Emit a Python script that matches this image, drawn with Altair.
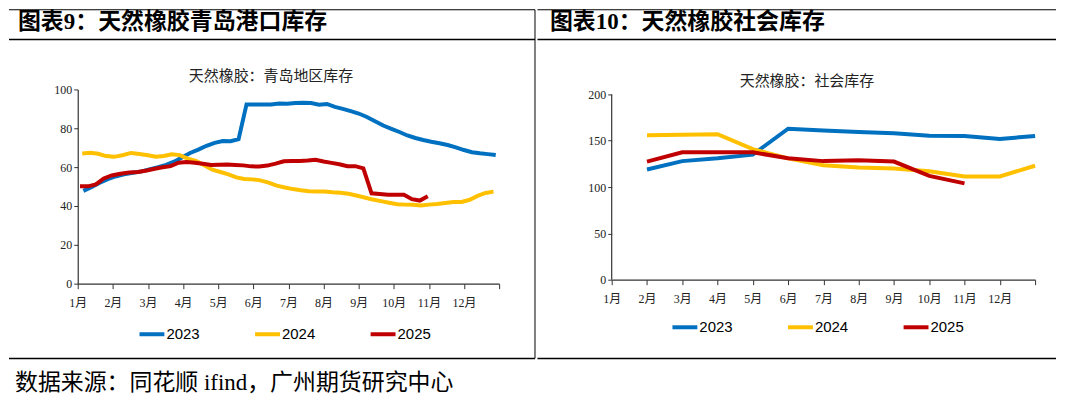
import json
import altair as alt
import pandas as pd

years = ["2023", "2024", "2025"]
colors = ["#0070C0", "#FFC000", "#C00000"]
month_labels = [f"{m}月" for m in range(1, 13)]

heading_left = "图表9：天然橡胶青岛港口库存"
heading_right = "图表10：天然橡胶社会库存"
title_left = "天然橡胶：青岛地区库存"
title_right = "天然橡胶：社会库存"
source_text = "数据来源：同花顺 ifind，广州期货研究中心"

# Qingdao inventory, weekly (first report date of each year)
qd_start = {"2023": "2023-01-06", "2024": "2024-01-05", "2025": "2025-01-03"}
qd_2023 = [47.8, 49.7, 51.8, 53.7, 55.2, 56.3, 57.1, 57.8, 59.0, 60.0, 61.2, 62.8, 65.0,
           67.3, 69.0, 71.0, 72.5, 73.4, 73.3, 74.4, 92.3, 92.3, 92.3, 92.3, 92.8, 92.6,
           93.0, 93.2, 93.0, 92.1, 92.5, 91.0, 90.0, 88.8, 87.6, 85.8, 83.6, 81.4, 79.7,
           78.1, 76.3, 75.0, 74.0, 73.1, 72.3, 71.4, 70.2, 68.8, 67.7, 67.1, 66.7, 66.2]
qd_2024 = [67.0, 67.4, 66.9, 65.7, 65.3, 66.1, 67.3, 66.8, 66.1, 65.4, 65.7, 66.6, 66.2,
           64.4, 63.2, 61.0, 58.7, 57.5, 56.3, 54.7, 53.9, 53.7, 53.2, 52.0, 50.5, 49.5,
           48.7, 48.1, 47.6, 47.5, 47.5, 47.1, 46.8, 46.3, 45.4, 44.4, 43.3, 42.5, 41.7,
           40.9, 40.7, 40.6, 40.2, 40.7, 41.0, 41.5, 42.0, 42.1, 43.2, 45.2, 46.7, 47.4]
qd_2025 = [50.1, 50.1, 51.1, 54.2, 55.7, 56.6, 57.2, 57.5, 58.3, 59.2, 59.9, 60.5, 62.3,
           62.6, 62.3, 61.7, 61.1, 61.2, 61.3, 61.1, 60.9, 60.4, 60.3, 60.8, 61.8, 63.0,
           63.1, 63.2, 63.4, 63.8, 62.9, 62.2, 61.5, 60.5, 60.5, 59.4, 46.5, 46.2, 45.8,
           45.8, 45.8, 43.5, 42.8, 45.0]

# Social inventory, monthly (Jan..Dec, month-end values)
soc_2023 = [119, 128, 131, 135, 163, 161, 159.5, 158, 155.5, 155, 152, 155]
soc_2024 = [156, 156.5, 157, 141, 131, 123.5, 121, 120, 117, 111.5, 111.5, 123]
soc_2025 = [127.5, 137.5, 137.5, 137.5, 131, 128, 129, 127.5, 112, 104]

qd_values = {"2023": qd_2023, "2024": qd_2024, "2025": qd_2025}
soc_values = {"2023": soc_2023, "2024": soc_2024, "2025": soc_2025}


def month_pos(d):
    return (d.month - 1) + (d.day - 1) / d.days_in_month


rows = []
for y in years:
    dates = pd.date_range(qd_start[y], periods=len(qd_values[y]), freq="7D")
    for d, v in zip(dates, qd_values[y]):
        rows.append({"year": y, "pos": month_pos(d), "value": v})
qd_df = pd.DataFrame(rows)

rows = []
for y in years:
    for i, v in enumerate(soc_values[y]):
        rows.append({"year": y, "pos": i + 1, "value": v})
soc_df = pd.DataFrame(rows)

SERIF = "Liberation Serif, Noto Sans CJK SC"
SANS_CJK = "Noto Sans CJK SC"
NARROW = "Liberation Sans Narrow, Liberation Sans"
AXIS_COLOR = "#333"

label_expr = f"datum.value < 12 ? {json.dumps(month_labels, ensure_ascii=False)}[datum.value] : ''"


def x_axis():
    return alt.X("pos:Q", scale=alt.Scale(domain=[0, 12], nice=False, zero=False),
                 axis=alt.Axis(values=list(range(13)), labelExpr=label_expr, title=None,
                               grid=False, tickSize=5, labelPadding=9, labelFlush=False,
                               labelOverlap=False, labelAngle=0, labelFont=SERIF,
                               labelFontSize=12, labelColor="#222", domainColor=AXIS_COLOR,
                               tickColor=AXIS_COLOR, domainWidth=1.2))


def y_axis_def(top, step, show_domain=True):
    return alt.Axis(values=list(range(0, top + 1, step)), title=None, grid=False,
                    tickSize=4, labelPadding=2, labelFont=SERIF, labelFontSize=12,
                    labelColor="#222", domainColor=AXIS_COLOR, tickColor=AXIS_COLOR,
                    domainWidth=1.2, domain=show_domain)


def y_axis(top, step, dom_max, show_domain=True):
    return alt.Y("value:Q", scale=alt.Scale(domain=[0, dom_max], nice=False),
                 axis=y_axis_def(top, step, show_domain))


def color_enc(lx, ly):
    return alt.Color("year:N", scale=alt.Scale(domain=years, range=colors),
                     legend=alt.Legend(orient="none", legendX=lx, legendY=ly,
                                       direction="horizontal", columns=3, title=None,
                                       symbolType="stroke", symbolSize=625,
                                       symbolStrokeWidth=4, labelFont=NARROW,
                                       labelFontSize=15, labelColor="#000",
                                       labelOffset=0, columnPadding=47, padding=0))


deco_df = pd.DataFrame({"k": [0]})


def hrule(x1, x2, y, w=1.0):
    return alt.Chart(deco_df).mark_rule(color="#000", strokeWidth=w).encode(
        x=alt.value(x1), x2=alt.value(x2), y=alt.value(y))


def vrule(x, y1, y2, w=1.0):
    return alt.Chart(deco_df).mark_rule(color="#000", strokeWidth=w).encode(
        x=alt.value(x), y=alt.value(y1), y2=alt.value(y2))


def text(t, x, y, font, size, weight="normal", align="left", color="#000"):
    return alt.Chart(deco_df).mark_text(text=t, font=font, fontSize=size, fontWeight=weight,
                                        align=align, baseline="middle", color=color).encode(
        x=alt.value(x), y=alt.value(y))


# Both panels share the plot-origin row at page y = 88.
# Left panel: plot area at page (77, 88), 423 x 195
left_lines = alt.Chart(qd_df).mark_line(strokeWidth=4).encode(
    x=x_axis(), y=y_axis(100, 20, 100), color=color_enc(60, 231))
left = alt.layer(
    left_lines,
    hrule(-69, 459, -80, 1.2),
    hrule(-69, 459, -50, 1.5),
    vrule(459, -80, 270, 1.0),
    hrule(-69, 459, 270, 1.5),
    text(heading_left, -60, -68, SERIF, 23, "bold"),
    text(title_left, 194, -13, SANS_CJK, 15, align="center", color="#222"),
    text(source_text, -63, 295, SERIF, 23),
).properties(width=423, height=195)

# Right panel: plot area at page (611, 88..279); value 200 sits at page y 93
right_top = 200
right_dom_max = 200 * 191 / 186
right_lines = alt.Chart(soc_df).mark_line(strokeWidth=4).encode(
    x=x_axis(), y=y_axis(right_top, 50, right_dom_max, show_domain=False),
    color=color_enc(59, 224))
right_domain = alt.Chart(deco_df).mark_rule(color=AXIS_COLOR, strokeWidth=1.2).encode(
    x=alt.value(0),
    y=alt.YDatum(0, axis=y_axis_def(right_top, 50, show_domain=False)),
    y2=alt.Y2Datum(right_top))
right = alt.layer(
    right_lines,
    right_domain,
    hrule(-74.5, 446, -80, 1.2),
    hrule(-74.5, 446, -50, 1.5),
    hrule(-74.5, 446, 270, 1.5),
    text(heading_right, -62, -68, SERIF, 23, "bold"),
    text(title_right, 196, -8, SANS_CJK, 15, align="center", color="#222"),
).properties(width=425, height=191)

chart = alt.hconcat(left, right, spacing=0).resolve_scale(
    x="independent", y="independent", color="independent"
).resolve_legend(color="independent").properties(
    padding={"left": 0, "top": 0, "right": 0, "bottom": 0}
).configure(background="white").configure_view(stroke=None)

chart.save("out.html", embed_options={"renderer": "svg", "actions": False})
